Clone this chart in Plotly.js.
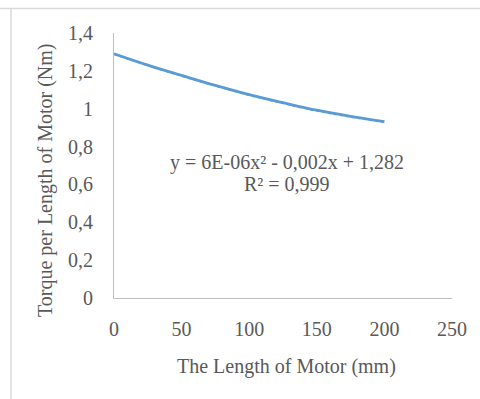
<!DOCTYPE html>
<html>
<head>
<meta charset="utf-8">
<script src="https://cdn.plot.ly/plotly-3.0.1.min.js"></script>
<style>html,body{margin:0;padding:0;background:#fff;}#chart{width:480px;height:399px;}</style>
</head>
<body>
<div id="chart"></div>
<script>
// Data
const motorLength = [0, 25, 50, 75, 100, 125, 150, 175, 200];
const torquePerLength = [1.29, 1.23, 1.176, 1.123, 1.074, 1.032, 0.992, 0.96, 0.932];
const trendValues = [1.288, 1.228, 1.172, 1.12, 1.071, 1.028, 0.988, 0.956, 0.928];
const xTickVals = [0, 50, 100, 150, 200, 250];
const xTickText = ["0", "50", "100", "150", "200", "250"];
const yTickVals = [0, 0.2, 0.4, 0.6, 0.8, 1, 1.2, 1.4];
const yTickText = ["0", "0,2", "0,4", "0,6", "0,8", "1", "1,2", "1,4"];
const equationLine = "y = 6E-06x² - 0,002x + 1,282";
const rSquaredLine = "R² = 0,999";
const xTitle = "The Length of Motor (mm)";
const yTitle = "Torque per Length of Motor (Nm)";

const font = "'Liberation Serif', 'Times New Roman', serif";
const textColor = "#595959";
const L = 114, R = 28, T = 33, B = 101;
const W = 480 - L - R, H = 399 - T - B;
const px = x => (x - L) / W;
const py = y => (399 - B - y) / H;

const data = [
  {x: motorLength, y: torquePerLength, type: "scatter", mode: "lines",
   line: {color: "#5B9BD5", width: 2.8, shape: "spline"}, hoverinfo: "skip"},
  {x: motorLength, y: trendValues, type: "scatter", mode: "lines",
   line: {color: "#5B9BD5", width: 1.5, dash: "dot", shape: "spline"}, hoverinfo: "skip"}
];

const layout = {
  width: 480, height: 399,
  margin: {l: L, r: R, t: T, b: B, pad: 0},
  paper_bgcolor: "#fff", plot_bgcolor: "#fff",
  showlegend: false,
  font: {family: font, size: 20, color: textColor},
  xaxis: {range: [0, 250], tickvals: xTickVals, ticktext: xTickText,
    showgrid: false, zeroline: false, showline: true, linecolor: "#BFBFBF", linewidth: 1,
    ticks: "", ticklabelstandoff: 13, tickfont: {family: font, size: 20, color: textColor},
    fixedrange: true},
  yaxis: {range: [0, 1.4], tickvals: yTickVals, ticktext: yTickText,
    showgrid: false, zeroline: false, showline: true, linecolor: "#BFBFBF", linewidth: 1,
    ticks: "", ticklabelstandoff: 16, tickfont: {family: font, size: 20, color: textColor},
    fixedrange: true},
  annotations: [
    {xref: "paper", yref: "paper", x: px(286), y: py(366), text: xTitle, showarrow: false,
     font: {family: font, size: 20, color: textColor}, xanchor: "center", yanchor: "middle"},
    {xref: "paper", yref: "paper", x: px(45), y: py(180), text: yTitle, showarrow: false,
     textangle: -90, font: {family: font, size: 20, color: textColor}, xanchor: "center", yanchor: "middle"},
    {xref: "paper", yref: "paper", x: px(287), y: py(162), text: equationLine, showarrow: false,
     font: {family: font, size: 20, color: textColor}, xanchor: "center", yanchor: "middle"},
    {xref: "paper", yref: "paper", x: px(287), y: py(184), text: rSquaredLine, showarrow: false,
     font: {family: font, size: 20, color: textColor}, xanchor: "center", yanchor: "middle"}
  ],
  shapes: [
    {type: "line", xref: "paper", yref: "paper", x0: px(0), x1: px(480), y0: py(8.5), y1: py(8.5),
     line: {color: "#D9D9D9", width: 1.5}},
    {type: "line", xref: "paper", yref: "paper", x0: px(11), x1: px(11), y0: py(8.5), y1: py(399),
     line: {color: "#D9D9D9", width: 1.5}}
  ]
};

Plotly.newPlot("chart", data, layout, {displayModeBar: false, staticPlot: true});
</script>
</body>
</html>
